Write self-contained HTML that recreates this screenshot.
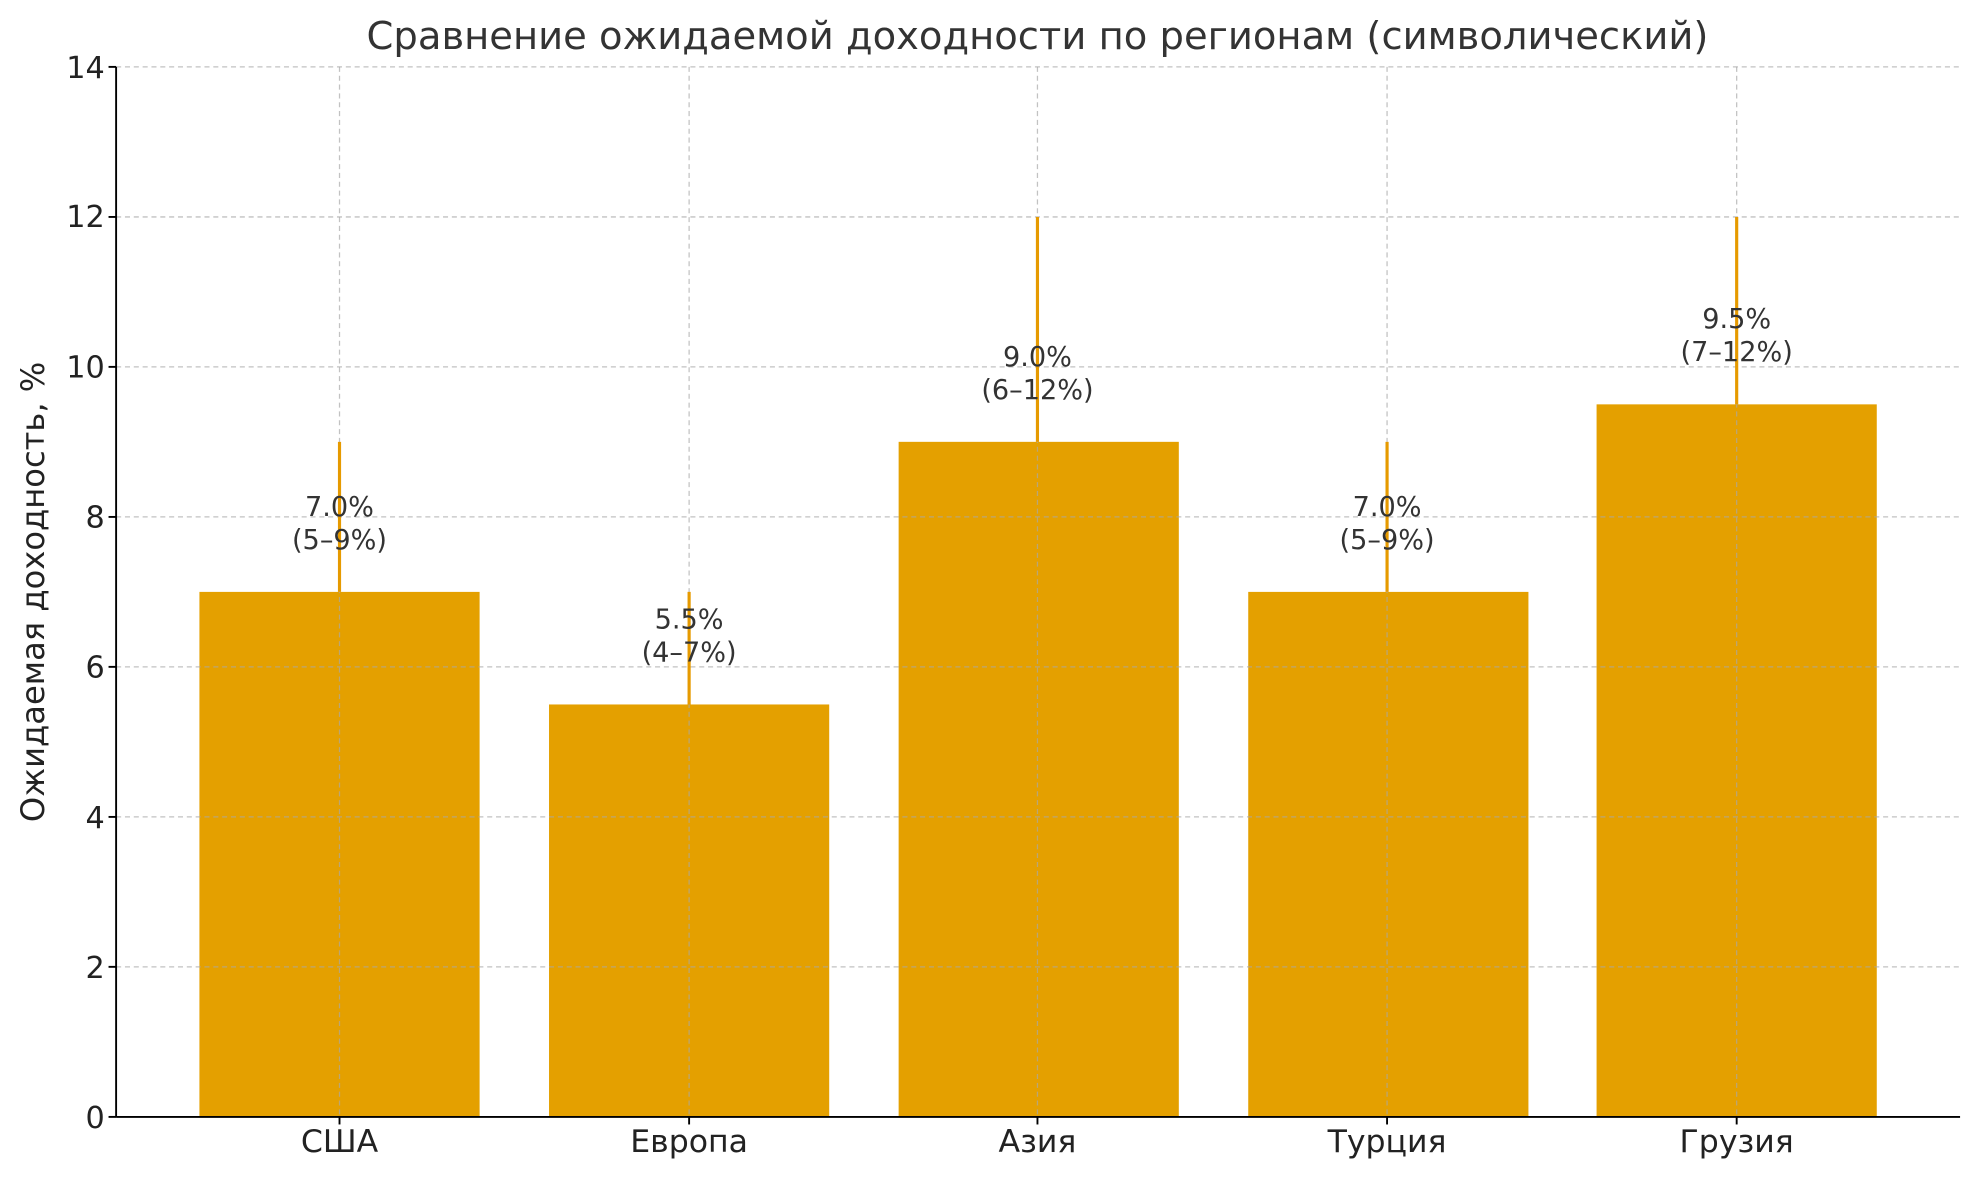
<!DOCTYPE html>
<html><head><meta charset="utf-8"><style>html,body{margin:0;padding:0;background:#fff}svg{display:block}</style></head>
<body>
<svg width="1979" height="1180" viewBox="0 0 1568 935" preserveAspectRatio="none" xmlns="http://www.w3.org/2000/svg" font-family="'DejaVu Sans','Liberation Sans',sans-serif">
<rect width="1568" height="935" fill="#fff"/>
<g fill="#e4a000">
<rect x="158" y="469" width="222" height="416"/>
<rect x="435" y="558.2" width="222" height="326.8"/>
<rect x="712" y="350.1" width="222" height="534.9"/>
<rect x="989" y="469" width="222" height="416"/>
<rect x="1265" y="320.4" width="222" height="564.6"/>
</g>
<g stroke="#a8a8a8" stroke-opacity="0.7" stroke-width="1" stroke-dasharray="4,3">
<line x1="92" x2="1553" y1="766.1" y2="766.1"/>
<line x1="92" x2="1553" y1="647.3" y2="647.3"/>
<line x1="92" x2="1553" y1="528.4" y2="528.4"/>
<line x1="92" x2="1553" y1="409.6" y2="409.6"/>
<line x1="92" x2="1553" y1="290.7" y2="290.7"/>
<line x1="92" x2="1553" y1="171.9" y2="171.9"/>
<line x1="92" x2="1553" y1="53" y2="53"/>
<line x1="269" x2="269" y1="53" y2="885"/>
<line x1="546" x2="546" y1="53" y2="885"/>
<line x1="822" x2="822" y1="53" y2="885"/>
<line x1="1099" x2="1099" y1="53" y2="885"/>
<line x1="1376" x2="1376" y1="53" y2="885"/>
</g>
<g stroke="#e69a00" stroke-width="2.5">
<line x1="269" x2="269" y1="350.1" y2="469"/>
<line x1="546" x2="546" y1="469" y2="558.2"/>
<line x1="822" x2="822" y1="171.9" y2="350.1"/>
<line x1="1099" x2="1099" y1="350.1" y2="469"/>
<line x1="1376" x2="1376" y1="171.9" y2="320.4"/>
</g>
<g font-size="21.5" fill="#333" text-anchor="middle">
<text x="269" y="409">7.0%</text><text x="269" y="435">(5–9%)</text>
<text x="546" y="498">5.5%</text><text x="546" y="524">(4–7%)</text>
<text x="822" y="290">9.0%</text><text x="822" y="316">(6–12%)</text>
<text x="1099" y="409">7.0%</text><text x="1099" y="435">(5–9%)</text>
<text x="1376" y="260">9.5%</text><text x="1376" y="286">(7–12%)</text>
</g>
<g stroke="#000" stroke-width="1.5">
<line x1="92" x2="92" y1="53" y2="885"/>
<line x1="92" x2="1553" y1="885" y2="885"/>
<line x1="86" x2="92" y1="885" y2="885"/><line x1="86" x2="92" y1="766.1" y2="766.1"/>
<line x1="86" x2="92" y1="647.3" y2="647.3"/><line x1="86" x2="92" y1="528.4" y2="528.4"/>
<line x1="86" x2="92" y1="409.6" y2="409.6"/><line x1="86" x2="92" y1="290.7" y2="290.7"/>
<line x1="86" x2="92" y1="171.9" y2="171.9"/><line x1="86" x2="92" y1="53" y2="53"/>
<line x1="269" x2="269" y1="885" y2="891"/><line x1="546" x2="546" y1="885" y2="891"/>
<line x1="822" x2="822" y1="885" y2="891"/><line x1="1099" x2="1099" y1="885" y2="891"/>
<line x1="1376" x2="1376" y1="885" y2="891"/>
</g>
<g font-size="24" fill="#222" text-anchor="end">
<text x="83" y="894">0</text><text x="83" y="775">2</text><text x="83" y="656">4</text>
<text x="83" y="537">6</text><text x="83" y="418">8</text><text x="83" y="299">10</text>
<text x="83" y="180">12</text><text x="83" y="62">14</text>
</g>
<g font-size="25" fill="#222" text-anchor="middle">
<text x="269" y="913">США</text><text x="546" y="913">Европа</text><text x="822" y="913">Азия</text>
<text x="1099" y="913">Турция</text><text x="1376" y="913">Грузия</text>
</g>
<text x="0" y="0" font-size="25.5" fill="#222" text-anchor="middle" transform="translate(35,469) rotate(-90)">Ожидаемая доходность, %</text>
<text x="822" y="39" font-size="30.5" fill="#333" text-anchor="middle">Сравнение ожидаемой доходности по регионам (символический)</text>
</svg>
</body></html>
